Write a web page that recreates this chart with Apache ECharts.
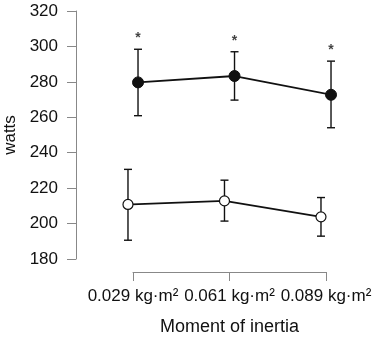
<!DOCTYPE html>
<html>
<head>
<meta charset="utf-8">
<script src="https://cdn.jsdelivr.net/npm/echarts@6/dist/echarts.min.js"></script>
<style>
  html, body { margin: 0; padding: 0; background: #fff; }
  #chart { width: 383px; height: 339px; }
</style>
</head>
<body>
<div id="chart"></div>
<script>
  // moment of inertia conditions
  const categories = ['0.029 kg·m²', '0.061 kg·m²', '0.089 kg·m²']
  // filled circles (upper group)
  const highMean = [279.7, 283.3, 272.7]
  const highLo = [260.9, 269.7, 254.1]
  const highHi = [298.4, 297.0, 291.7]
  // open circles (lower group)
  const lowMean = [210.8, 212.8, 203.8]
  const lowLo = [190.6, 201.4, 192.9]
  const lowHi = [230.6, 224.5, 214.7]
  const sigMarks = ['*', '*', '*']
  const yMin = 180, yMax = 320, yStep = 20

  const dodge = 0.052
  const xs = categories.map((c, i) => i + 1)

  const pts = (vals, off) => vals.map((v, i) => [xs[i] + off, v])
  const bars = (lo, hi, off) => lo.map((v, i) => [xs[i] + off, v, hi[i]])

  function errorBar(params, api) {
    const x = api.value(0)
    const lo = api.coord([x, api.value(1)])
    const hi = api.coord([x, api.value(2)])
    const w = 4
    const style = { stroke: '#111', lineWidth: 1.4 }
    return {
      type: 'group',
      children: [
        { type: 'line', shape: { x1: lo[0], y1: lo[1], x2: hi[0], y2: hi[1] }, style },
        { type: 'line', shape: { x1: lo[0] - w, y1: lo[1], x2: lo[0] + w, y2: lo[1] }, style },
        { type: 'line', shape: { x1: hi[0] - w, y1: hi[1], x2: hi[0] + w, y2: hi[1] }, style }
      ]
    }
  }

  const chart = echarts.init(document.getElementById('chart'))
  chart.setOption({
    animation: false,
    backgroundColor: '#fff',
    textStyle: { fontFamily: 'Liberation Sans' },
    grid: { left: 133, right: 57, top: 11, bottom: 80, outerBoundsMode: 'none', containLabel: false },
    xAxis: {
      type: 'value',
      min: 1,
      max: 3,
      interval: 1,
      offset: 13,
      name: 'Moment of inertia',
      nameLocation: 'middle',
      nameGap: 46,
      nameTextStyle: { color: '#111', fontSize: 18 },
      axisLine: { lineStyle: { color: '#888', width: 1 } },
      axisTick: { length: 9, lineStyle: { color: '#888' } },
      axisLabel: {
        color: '#111',
        fontSize: 17,
        margin: 16,
        formatter: v => categories[v - 1] || ''
      },
      splitLine: { show: false }
    },
    yAxis: {
      type: 'value',
      min: yMin,
      max: yMax,
      interval: yStep,
      offset: 57,
      name: 'watts',
      nameLocation: 'middle',
      nameGap: 57,
      nameTextStyle: { color: '#111', fontSize: 17 },
      axisLine: { show: true, lineStyle: { color: '#888', width: 1 } },
      axisTick: { show: true, length: 9, lineStyle: { color: '#888' } },
      axisLabel: { color: '#111', fontSize: 17, margin: 18 },
      splitLine: { show: false }
    },
    series: [
      {
        type: 'custom',
        renderItem: errorBar,
        data: bars(highLo, highHi, dodge),
        clip: false,
        z: 1
      },
      {
        type: 'custom',
        renderItem: errorBar,
        data: bars(lowLo, lowHi, -dodge),
        clip: false,
        z: 1
      },
      {
        type: 'line',
        data: pts(highMean, dodge),
        clip: false,
        symbol: 'circle',
        symbolSize: 11,
        lineStyle: { color: '#111', width: 1.8 },
        itemStyle: { color: '#111', borderColor: '#111', borderWidth: 1 },
        z: 3
      },
      {
        type: 'line',
        data: pts(lowMean, -dodge),
        clip: false,
        symbol: 'circle',
        symbolSize: 10,
        lineStyle: { color: '#111', width: 1.8 },
        itemStyle: { color: '#fff', borderColor: '#111', borderWidth: 1.2 },
        z: 3
      },
      {
        type: 'scatter',
        data: highHi.map((v, i) => [xs[i] + dodge, v]),
        clip: false,
        symbolSize: 0,
        silent: true,
        label: {
          show: true,
          position: 'top',
          distance: 4,
          formatter: p => sigMarks[p.dataIndex],
          color: '#111',
          fontSize: 14,
          fontWeight: 'bold'
        },
        z: 4
      }
    ]
  })
</script>
</body>
</html>
